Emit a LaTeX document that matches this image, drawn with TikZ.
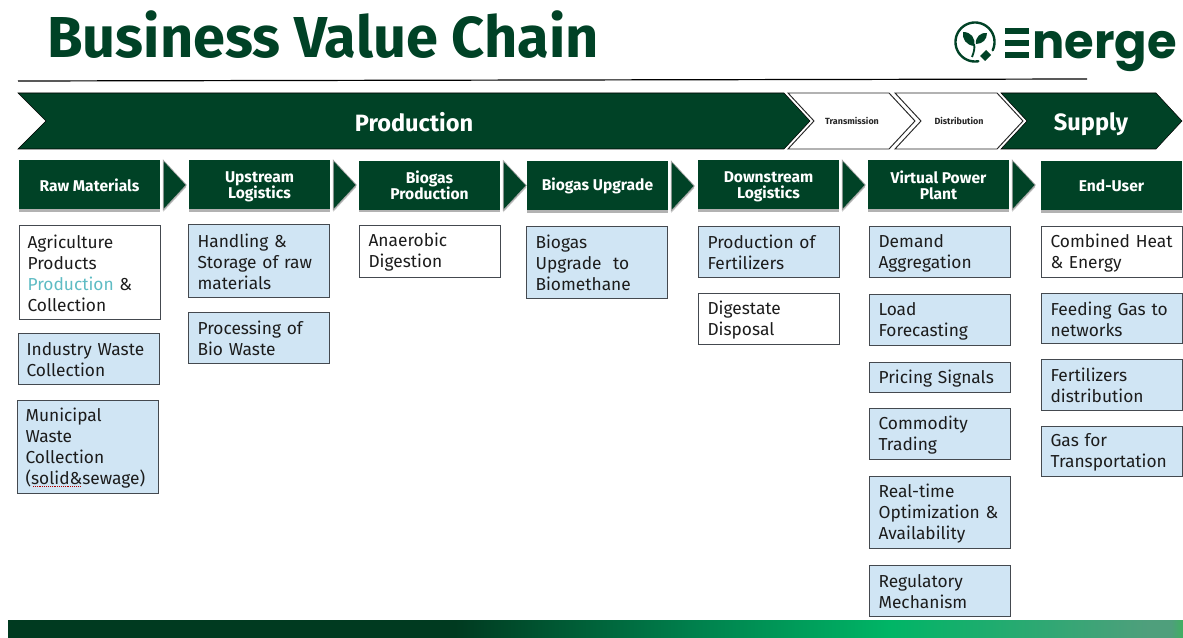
\documentclass[tikz,border=0pt]{standalone}
\usepackage{fontspec}
\setmainfont{Fira Sans}
\newfontfamily\logofont{Poppins}
\usetikzlibrary{calc,shadows}
\definecolor{dkgreen}{HTML}{004226}
\definecolor{ltblue}{HTML}{D0E5F4}
\definecolor{edgegray}{HTML}{44494F}
\definecolor{tealtext}{HTML}{5FBCC4}
\definecolor{inktext}{HTML}{1C1C1C}
\definecolor{bandA}{HTML}{003A20}
\definecolor{bandB}{HTML}{007F4C}
\definecolor{bandC}{HTML}{00B566}
\definecolor{bandD}{HTML}{4F9F7C}
\definecolor{bandE}{HTML}{3FB060}
\pgfdeclarehorizontalshading{bandshade}{100bp}{
  color(0bp)=(bandA);
  color(25bp)=(bandA);
  color(44bp)=(bandA);
  color(54bp)=(bandB);
  color(62.5bp)=(bandC);
  color(73.5bp)=(bandD);
  color(74.5bp)=(bandD);
  color(75bp)=(bandE);
  color(100bp)=(bandE)}
\tikzset{
  x=0.75pt,y=-0.75pt,
  headbox/.style={fill=dkgreen,text=white,align=center,anchor=center,inner sep=0pt,
    font=\fontsize{11.7}{12.2}\selectfont\bfseries,
    drop shadow={shadow xshift=0pt,shadow yshift=-1.6pt,fill=black,opacity=0.3},
    minimum width=105.75pt,minimum height=36.75pt},
  bodybox/.style={draw=edgegray,line width=0.8pt,anchor=north west,inner xsep=6.75pt,inner ysep=0pt,
    align=left,text=inktext,font=\fontsize{13}{15.75}\selectfont,text width=92.25pt,minimum width=105.75pt,text height=11pt},
  whitebox/.style={bodybox,fill=white},
  bluebox/.style={bodybox,fill=ltblue},
  darkchev/.style={fill=dkgreen,draw=black,line width=0.4pt},
  whitechev/.style={fill=white,draw=black!85,line width=0.7pt},
  smalllabel/.style={font=\fontsize{6.7}{7}\selectfont\bfseries,text=black!85,inner sep=0pt},
  biglabel/.style={anchor=base,font=\fontsize{17.7}{20}\selectfont\bfseries,text=white,inner sep=0pt},
  headarrow/.style={fill=dkgreen,draw=black!35,line width=0.5pt},
}
\newcommand{\harrow}[1]{\fill[black!25] ($(#1.north east)+(3,3)$) -- ($(#1.east)+(26,2)$) -- ($(#1.south east)+(3,2)$) -- cycle;
  \path[headarrow] ($(#1.north east)+(3,0)$) -- ($(#1.east)+(26,0)$) -- ($(#1.south east)+(3,0)$) -- cycle;}
\begin{document}
\begin{tikzpicture}
\useasboundingbox (0,0) rectangle (1183,638);
\fill[white] (0,0) rectangle (1183,638);
% title
\node[anchor=base west,inner sep=0pt,text=dkgreen,font=\fontsize{43.3}{45}\selectfont\bfseries] (title) at (47,58) {Business Value Chain};
% rule
\coordinate (ruleA) at (18,81);
\coordinate (ruleB) at (1087,79);
\draw[black,line width=0.9pt] (ruleA) -- (ruleB);
% logo
\draw[dkgreen,line width=1.8pt,line cap=round] plot[domain=80:385,samples=70,smooth] ({975+19.5*cos(\x)},{42+19.5*sin(\x)});
\path[fill=dkgreen] (963,32) .. controls (971,32) and (976,38) .. (974,46) .. controls (966,45) and (962,39) .. (963,32) -- cycle;
\path[fill=dkgreen] (987,33) .. controls (981,32) and (975,37) .. (976,44) .. controls (983,44) and (987,39) .. (987,33) -- cycle;
\draw[dkgreen,line width=1.4pt] (974,44) .. controls (975,48) and (974,52) .. (972,57);
\path[fill=dkgreen] (980,56) -- (986,50) -- (991,55) -- (985,61) -- cycle;
\fill[dkgreen] (1005,28) rectangle (1029,34.5);
\fill[dkgreen] (1005,40.5) rectangle (1029,46);
\fill[dkgreen] (1005,52) rectangle (1029,58.5);
\node[anchor=base west,inner sep=0pt,text=dkgreen,font=\fontsize{36}{38}\selectfont\logofont\bfseries] (logotext) at (1032,59) {nerge};
% chevrons
\path[darkchev] (18,93) -- (784,93) -- (810,121) -- (784,149) -- (18,149) -- (46,121) -- cycle;
\node[biglabel] (prod) at (414,131.5) {Production};
\path[whitechev] (788,93) -- (889,93) -- (915,121) -- (889,149) -- (788,149) -- (814,121) -- cycle;
\node[smalllabel] (trans) at (852,121) {Transmission};
\path[whitechev] (895,93) -- (997,93) -- (1023,121) -- (997,149) -- (895,149) -- (921,121) -- cycle;
\node[smalllabel] (dist) at (959,120.5) {Distribution};
\path[darkchev] (1001,93) -- (1156,93) -- (1182,121) -- (1156,149) -- (1001,149) -- (1027,121) -- cycle;
\node[biglabel] (supply) at (1091,131) {Supply};
% header boxes
\node[headbox] (h1) at (89.5,185) {Raw Materials};
\node[headbox] (h2) at (259.5,185) {\rule{0pt}{11pt}Upstream\\Logistics};
\node[headbox] (h3) at (429.5,185.5) {Biogas\\Production};
\node[headbox] (h4) at (597.5,186) {Biogas Upgrade};
\node[headbox] (h5) at (768.5,185) {\rule{0pt}{11pt}Downstream\\Logistics};
\node[headbox] (h6) at (938.5,185) {Virtual Power\\Plant};
\node[headbox] (h7) at (1111.5,186) {End-User};
\harrow{h1}\harrow{h2}\harrow{h3}\harrow{h4}\harrow{h5}\harrow{h6}
% column 1
\node[whitebox,minimum height=70.5pt,inner xsep=6pt,text width=93.75pt] (a1) at (19,225) {Agriculture\\Products\\{\color{tealtext}Production} \&\\Collection};
\node[bluebox,minimum height=38.25pt,inner xsep=6pt,text width=93.75pt] (a2) at (18,333) {Industry Waste\\Collection};
\node[bluebox,minimum height=69.75pt,inner xsep=6pt,text width=93.75pt] (a3) at (17,400) {Municipal\\Waste\\Collection\\(solid\&sewage)};
\coordinate (sqA) at (33,486);
\coordinate (sqB) at (81,486);
\draw[red!70!black,line width=0.4pt,densely dotted] (sqA) -- (sqB);
% column 2
\node[bluebox,minimum height=54.75pt] (b1) at (188,224) {Handling \&\\Storage of raw\\materials};
\node[bluebox,minimum height=38.25pt] (b2) at (188,312) {Processing of\\Bio Waste};
% column 3
\node[whitebox,minimum height=39pt] (c1) at (359,225) {Anaerobic\\Digestion};
% column 4
\node[bluebox,minimum height=54pt] (d1) at (526,226) {Biogas\\Upgrade~ to\\Biomethane};
% column 5
\node[bluebox,minimum height=38.25pt] (e1) at (698,226) {Production of\\Fertilizers};
\node[whitebox,minimum height=38.25pt] (e2) at (698,293) {Digestate\\Disposal};
% column 6
\node[bluebox,minimum height=38.25pt] (f1) at (869,226) {Demand\\Aggregation};
\node[bluebox,minimum height=38.25pt] (f2) at (869,294) {Load\\Forecasting};
\node[bluebox,minimum height=22.5pt] (f3) at (869,362) {Pricing Signals};
\node[bluebox,minimum height=38.25pt] (f4) at (869,408) {Commodity\\Trading};
\node[bluebox,minimum height=54pt] (f5) at (869,476) {Real-time\\Optimization \&\\Availability};
\node[bluebox,minimum height=38.25pt] (f6) at (869,565) {Regulatory\\Mechanism};
% column 7
\node[whitebox,minimum height=38.25pt] (g1) at (1041,226) {Combined Heat\\\& Energy};
\node[bluebox,minimum height=37.5pt] (g2) at (1041,293) {Feeding Gas to\\networks};
\node[bluebox,minimum height=38.25pt] (g3) at (1041,359) {Fertilizers\\distribution};
\node[bluebox,minimum height=37.5pt] (g4) at (1041,426) {Gas for\\Transportation};
% bottom band
\shade[shading=bandshade] (8,620) rectangle (1183,638);
\end{tikzpicture}
\end{document}
